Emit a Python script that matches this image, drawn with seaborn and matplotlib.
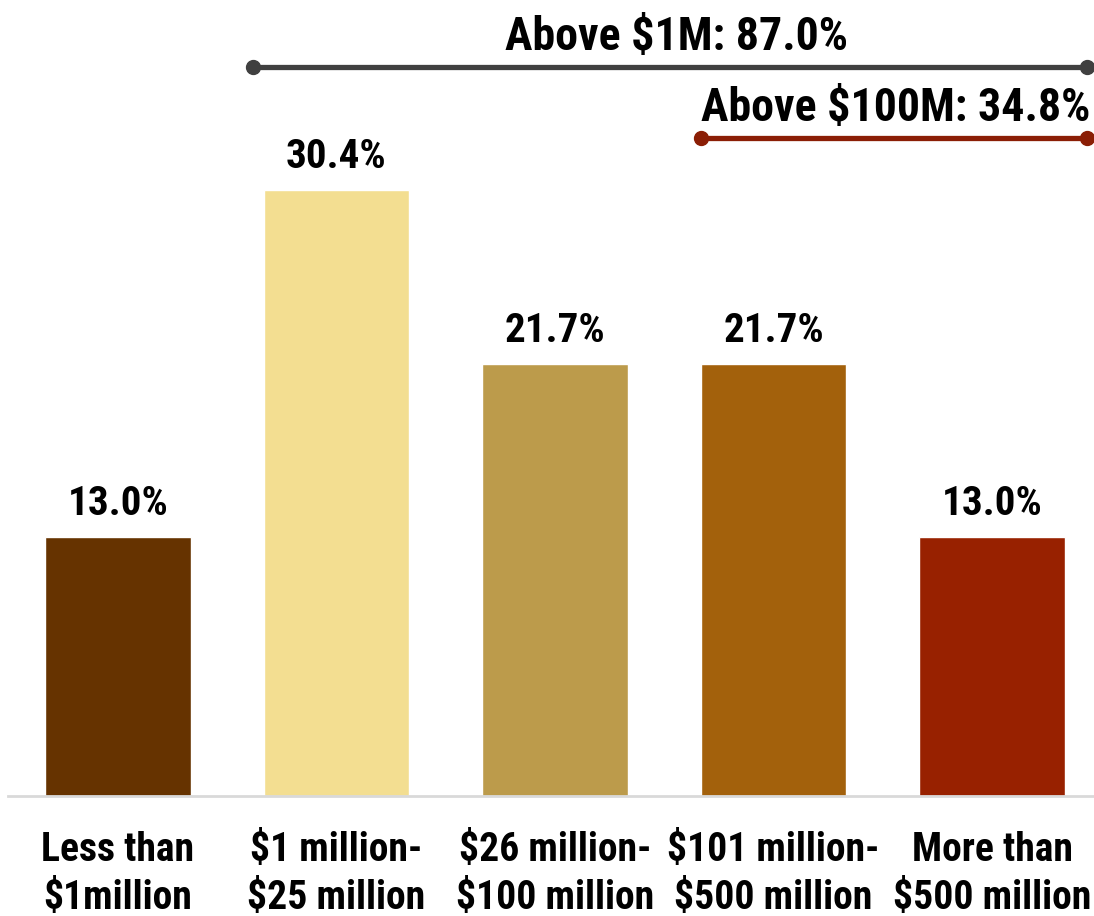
import matplotlib
matplotlib.use("Agg")
import matplotlib.pyplot as plt
from matplotlib import font_manager
import seaborn as sns
import pandas as pd

categories = ["Less than\n$1million", "$1 million-\n$25 million", "$26 million-\n$100 million",
              "$101 million-\n$500 million", "More than\n$500 million"]
shares = [13.0, 30.4, 21.7, 21.7, 13.0]
bar_colors = ["#663300", "#F3DE91", "#BC9B4B", "#A3610C", "#982100"]
above_1m_label = "Above $1M: 87.0%"
above_100m_label = "Above $100M: 34.8%"

sns.set_theme(style="white")
names = {f.name for f in font_manager.fontManager.ttflist}
family = next((n for n in ["Arial Narrow", "Liberation Sans Narrow", "Roboto Condensed",
                           "PT Sans Narrow", "Liberation Sans"] if n in names), "DejaVu Sans")
plt.rcParams["font.family"] = [family, "DejaVu Sans"]

df = pd.DataFrame({"category": categories, "share": shares})

fig = plt.figure(figsize=(10.94, 9.16), dpi=100)
ax = fig.add_axes([8 / 1094, 120 / 916, 1086 / 1094, 796 / 916])

sns.barplot(data=df, x="category", y="share", hue="category", palette=bar_colors,
            width=0.665, legend=False, ax=ax, saturation=1)

ax.set_xlim(-0.503, 4.467)
ax.set_ylim(0, 39.94)

for i, v in enumerate(shares):
    ax.text(i, v + 0.7, f"{v:.1f}%", ha="center", va="bottom", fontsize=29.5,
            fontweight="bold", color="black")

# bracket lines spanning the grouped categories
ax.plot([0.62, 4.435], [36.58, 36.58], color="#404040", lw=3.8, marker="o",
        markersize=10, solid_capstyle="butt", clip_on=False)
ax.text(2.558, 37.0, above_1m_label, ha="center", va="bottom", fontsize=33,
        fontweight="bold", color="black")
ax.plot([2.668, 4.435], [33.0, 33.0], color="#8B1E05", lw=3.8, marker="o",
        markersize=10, solid_capstyle="butt", clip_on=False)
ax.text(3.56, 33.4, above_100m_label, ha="center", va="bottom", fontsize=33,
        fontweight="bold", color="black")

for s in ["top", "right", "left"]:
    ax.spines[s].set_visible(False)
ax.spines["bottom"].set_color("#D9D9D9")
ax.spines["bottom"].set_linewidth(2)
ax.set_yticks([])
ax.set_xlabel("")
ax.set_ylabel("")
ax.tick_params(axis="x", length=0, pad=25)
for lbl in ax.get_xticklabels():
    lbl.set_fontsize(28.5)
    lbl.set_fontweight("bold")
    lbl.set_color("black")
    lbl.set_linespacing(1.33)

fig.savefig("out.png", dpi=100, facecolor="white")
